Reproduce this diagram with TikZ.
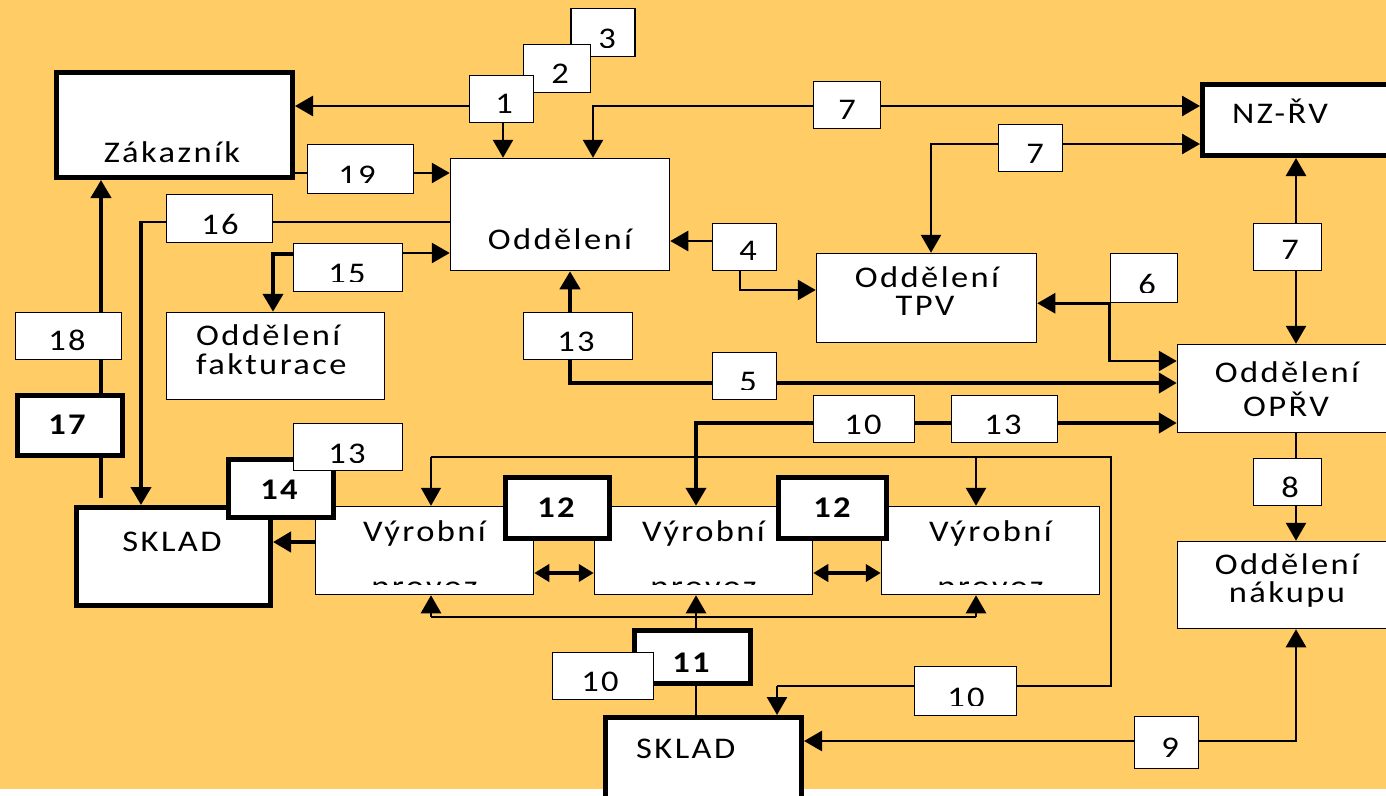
\documentclass[tikz,border=0pt]{standalone}
\usepackage{fontspec}
\newfontfamily\popis{Carlito}[LetterSpace=8,FakeStretch=1.15]
\usetikzlibrary{arrows.meta}

\definecolor{oranz}{HTML}{FFCC66}
\pgfdeclarelayer{back}
\pgfdeclarelayer{lines}
\pgfsetlayers{back,lines,main}

\tikzset{
  box/.style={draw, fill=white, line width=1.5pt, inner sep=0pt},
  tbox/.style={box, line width=5pt},
  txt/.style={inner sep=0pt, anchor=base, font=\popis\fontsize{30}{30}\selectfont},
  btxt/.style={txt, font=\popis\bfseries\fontsize{30}{30}\selectfont},
  ln1/.style={line width=1.5pt},
  ln2/.style={line width=2.7pt},
  ln3/.style={line width=4.2pt},
  arr/.style={-{Triangle[length=18pt,width=20pt]}},
  arr2/.style={{Triangle[length=18pt,width=20pt]}-{Triangle[length=18pt,width=20pt]}},
  darr/.style={{Triangle[length=15pt,width=17pt]}-{Triangle[length=15pt,width=17pt]}},
}

% text cut off below a line: name, x, baseline, cut, text
\newcommand\cutlabel[5]{%
  \begin{scope}
    \clip (#2-90,#4-80) rectangle (#2+90,#4);
    \node[txt] (#1) at (#2,#3) {#5};
  \end{scope}}

\begin{document}
\begin{tikzpicture}[x=1pt, y=-1pt]
  \useasboundingbox (0,0) rectangle (1386,795);
  \begin{pgfonlayer}{back}
    \fill[white] (0,0) rectangle (1386,795);
    \fill[oranz] (0,0) rectangle (1386,789);
  \end{pgfonlayer}
  \clip (0,0) rectangle (1386,795);

  % departments
  \node[tbox, minimum width=236pt, minimum height=105pt] (zak) at (174.5,125) {};
  \node[txt] (zak-t) at (172,162) {Zákazník};
  \node[box, minimum width=219pt, minimum height=112pt] (odd) at (560,214.5) {};
  \node[txt] (odd-t) at (560,249) {Oddělení};
  \node[box, minimum width=218pt, minimum height=87pt] (fak) at (275.5,356) {};
  \node[txt, anchor=base west] (fak-t1) at (196,345) {Oddělení};
  \node[txt, anchor=base west] (fak-t2) at (196,374) {fakturace};
  \node[box, minimum width=220pt, minimum height=89pt] (tpv) at (926.5,298) {};
  \node[txt] (tpv-t1) at (927,287) {Oddělení};
  \node[txt] (tpv-t2) at (925,315) {TPV};
  \node[tbox, minimum width=235pt, minimum height=71pt] (nzrv) at (1320,120) {};
  \node[txt, anchor=base west] (nzrv-t) at (1232,123) {NZ-ŘV};
  \node[box, minimum width=222pt, minimum height=88pt] (opr) at (1288.5,388.5) {};
  \node[txt] (opr-t1) at (1287,382) {Oddělení};
  \node[txt] (opr-t2) at (1286,416) {OPŘV};
  \node[box, minimum width=222pt, minimum height=87pt] (nak) at (1288.5,585) {};
  \node[txt] (nak-t1) at (1287,574) {Oddělení};
  \node[txt] (nak-t2) at (1287,602) {nákupu};
  \node[tbox, minimum width=194pt, minimum height=98pt] (skl1) at (173.5,556.5) {};
  \node[txt] (skl1-t) at (172,551) {SKLAD};
  \node[tbox, minimum width=196pt, minimum height=95pt] (skl2) at (703.5,765) {};
  \node[txt, anchor=base west] (skl2-t) at (636,758) {SKLAD};
  \foreach \n/\x in {1/424.5, 2/703.5, 3/990.5} {
    \node[box, minimum width=218pt, minimum height=88pt] (vyr\n) at (\x,550.5) {};
    \node[txt] (vyr\n-t) at (\x,541) {Výrobní};
    \cutlabel{vyr\n-p}{\x}{596}{584}{provoz}
  }

  % numbered flows
  \node[box, minimum width=64pt, minimum height=48pt] (n3) at (603,32.5) {};
  \cutlabel{n3-t}{607}{48}{47}{3}
  \node[box, minimum width=67pt, minimum height=48pt] (n2) at (557,68.5) {};
  \node[txt] (n2-t) at (560,83) {2};
  \node[box, minimum width=64pt, minimum height=47pt] (n1) at (501.5,99) {};
  \node[txt] (n1-t) at (504,113) {1};
  \node[box, minimum width=67pt, minimum height=47pt] (n7a) at (847,105) {};
  \node[txt] (n7a-t) at (847,119) {7};
  \node[box, minimum width=64pt, minimum height=47pt] (n7b) at (1030.5,148) {};
  \node[txt] (n7b-t) at (1035,163) {7};
  \node[box, minimum width=68pt, minimum height=47pt] (n7c) at (1287.5,247) {};
  \node[txt] (n7c-t) at (1290,259) {7};
  \node[box, minimum width=106pt, minimum height=49pt] (n19) at (360.5,169) {};
  \cutlabel{n19-t}{357}{185}{182}{19}
  \node[box, minimum width=106pt, minimum height=48pt] (n16) at (219.5,218.5) {};
  \cutlabel{n16-t}{220}{234}{233}{16}
  \node[box, minimum width=109pt, minimum height=48pt] (n15) at (348,267.5) {};
  \cutlabel{n15-t}{347}{283}{281}{15}
  \node[box, minimum width=109pt, minimum height=47pt] (n13a) at (578,336) {};
  \cutlabel{n13a-t}{576}{351}{350}{13}
  \node[box, minimum width=106pt, minimum height=47pt] (n18) at (68.5,336) {};
  \node[txt] (n18-t) at (67,350) {18};
  \node[box, minimum width=64pt, minimum height=47pt] (n4) at (744.5,247) {};
  \node[txt] (n4-t) at (748,260) {4};
  \node[box, minimum width=67pt, minimum height=49pt] (n6) at (1144,278) {};
  \cutlabel{n6-t}{1147}{294}{292}{6}
  \node[box, minimum width=64pt, minimum height=47pt] (n5) at (744.5,376) {};
  \cutlabel{n5-t}{748}{391}{389}{5}
  \node[box, minimum width=101pt, minimum height=47pt] (n10a) at (864,419) {};
  \cutlabel{n10a-t}{863}{434}{433}{10}
  \node[box, minimum width=106pt, minimum height=47pt] (n13b) at (1004.5,419) {};
  \cutlabel{n13b-t}{1003}{434}{433}{13}
  \node[box, minimum width=68pt, minimum height=47pt] (n8) at (1287.5,482) {};
  \node[txt] (n8-t) at (1290,497) {8};
  \node[box, minimum width=64pt, minimum height=52pt] (n9) at (1166.5,742.5) {};
  \node[txt] (n9-t) at (1170,757) {9};
  \node[box, minimum width=102pt, minimum height=49pt] (n10c) at (965.5,691) {};
  \cutlabel{n10c-t}{966}{707}{705}{10}
  \node[tbox, minimum width=116pt, minimum height=53pt] (n11) at (692.5,657) {};
  \node[btxt] (n11-t) at (691,672) {11};
  \node[box, minimum width=101pt, minimum height=47pt] (n10b) at (603,676) {};
  \cutlabel{n10b-t}{600}{691}{690}{10}
  \node[tbox, minimum width=105pt, minimum height=60pt] (n17) at (70,425.5) {};
  \node[btxt] (n17-t) at (67,434) {17};
  \node[tbox, minimum width=105pt, minimum height=58pt] (n14) at (281,488.5) {};
  \node[btxt] (n14-t) at (279,499) {14};
  \node[box, minimum width=109pt, minimum height=47pt] (n13c) at (348,447) {};
  \cutlabel{n13c-t}{347}{463}{462}{13}
  \node[tbox, minimum width=104pt, minimum height=61pt] (n12a) at (557.5,508) {};
  \node[btxt] (n12a-t) at (556,517) {12};
  \node[tbox, minimum width=108pt, minimum height=61pt] (n12b) at (832.5,508) {};
  \node[btxt] (n12b-t) at (832,517) {12};

  % bends and free ends
  \coordinate (k16) at (141,222);
  \coordinate (k17) at (101,498);
  \coordinate (vrch) at (431,457);
  \coordinate (vrch-r) at (976,457);
  \coordinate (vrch-e) at (1111,457);
  \coordinate (k10) at (777,686);
  \coordinate (spod) at (431,617);
  \coordinate (spod-r) at (976,617);

  \begin{pgfonlayer}{lines}
    \draw[ln2,arr] (n1.west |- 0,106) -- (zak.east |- 0,106);
    \draw[ln2,arr] (n1.south -| 503,0) -- (odd.north -| 503,0);
    \draw[ln2,arr2] (nzrv.west |- 0,106) -| (odd.north -| 593,0);
    \draw[ln2,arr2] (nzrv.west |- 0,144) -| (tpv.north -| 931,0);
    \draw[ln2,arr2] (nzrv.south -| 1296,0) -- (opr.north -| 1296,0);
    \draw[ln2,arr] (zak.east |- 0,173) -- (odd.west |- 0,173);
    \draw[ln1] (odd.west |- k16) -- (k16);
    \draw[ln3,arr] ([yshift=0.7pt]k16) -- (skl1.north -| k16);
    \draw[ln2,arr] (n15.east |- 0,253) -- (odd.west |- 0,253);
    \draw[ln3,arr] (n15.west |- 0,254) -| (fak.north -| 273,0);
    \draw[ln3,arr] (n13a.north -| 570,0) -- (odd.south -| 570,0);
    \draw[ln3,arr] (n13a.south -| 570,0) |- (opr.west |- 0,383);
    \draw[ln3,arr] (k17) -- (zak.south -| k17);
    \draw[ln2,arr] (n4.west |- 0,241) -- (odd.east |- 0,241);
    \draw[ln2,arr] (n4.south -| 740,0) |- (tpv.west |- 0,290);
    \draw[ln2,arr] (n6.south west) -- (tpv.east |- n6.south west);
    \draw[ln2,arr] (n6.south west) |- (opr.west |- 0,361);
    \draw[ln2,arr] (opr.south -| 1296,0) -- (nak.north -| 1296,0);
    \draw[ln2,arr2] (skl2.east |- 0,741) -| (nak.south -| 1296,0);
    \draw[ln3,arr2] (vyr2.north -| 696,0) |- (opr.west |- 0,423);
    \draw[ln1] (vrch) -- (vrch-e) |- (k10);
    \draw[ln1,arr] (vrch) -- (vyr1.north -| vrch);
    \draw[ln2,arr] (vrch-r) -- (vyr3.north -| vrch-r);
    \draw[ln2,arr] (k10) -- (skl2.north -| k10);
    \draw[ln1] (spod) -- (spod-r);
    \draw[ln2,arr] (spod) -- (vyr1.south -| spod);
    \draw[ln2,arr] (spod-r) -- (vyr3.south -| spod-r);
    \draw[ln2,arr] (skl2.north -| 696,0) -- (vyr2.south -| 696,0);
    \draw[ln3,arr] (vyr1.west |- 0,542) -- (skl1.east |- 0,542);
    \draw[ln3,darr] (vyr1.east |- 0,573) -- (vyr2.west |- 0,573);
    \draw[ln3,darr] (vyr2.east |- 0,573) -- (vyr3.west |- 0,573);
  \end{pgfonlayer}
\end{tikzpicture}
\end{document}
